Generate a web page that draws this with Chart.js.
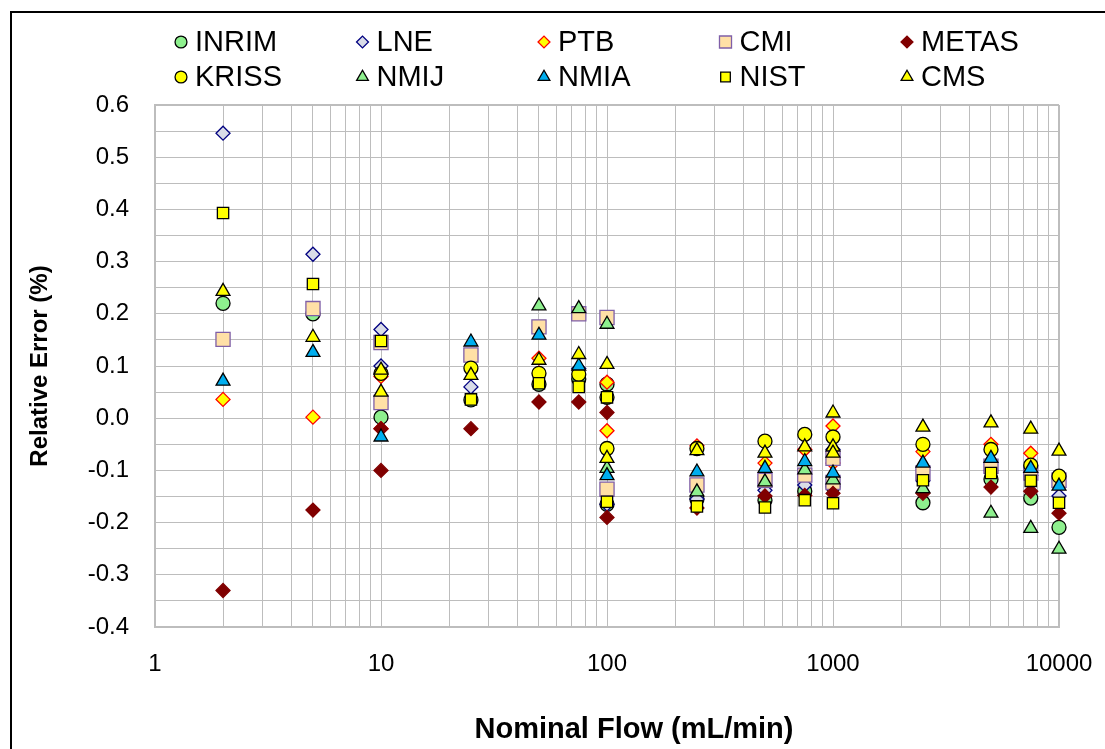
<!DOCTYPE html>
<html>
<head>
<meta charset="utf-8">
<title>Relative error vs nominal flow</title>
<script src="https://cdn.jsdelivr.net/npm/chart.js@4.4.1/dist/chart.umd.min.js"></script>
<style>
  html, body { margin: 0; padding: 0; background: #fff; }
  #wrap { width: 1105px; height: 749px; }
</style>
</head>
<body>
<div id="wrap"><canvas id="chart" width="1105" height="749"></canvas></div>
<script>
// Relative error (%) of each lab's flow meter against nominal flow (mL/min).
// Each lab is a list of [flow, error] pairs; some flows have two readings.

const xTickLabels = ['1', '10', '100', '1000', '10000'];
const yTickLabels = ['-0.4', '-0.3', '-0.2', '-0.1', '0.0', '0.1', '0.2', '0.3', '0.4', '0.5', '0.6'];

const INRIM = [[2, 0.22], [5, 0.20], [10, 0.002], [25, 0.035], [50, 0.065], [75, 0.075], [100, 0.065],
  [100, -0.165], [250, -0.155], [500, -0.157], [750, -0.14], [1000, -0.131], [2500, -0.162],
  [5000, -0.117], [7500, -0.153], [10000, -0.209]];
const LNE = [[2, 0.546], [5, 0.314], [10, 0.17], [10, 0.10], [25, 0.06], [75, 0.095], [100, -0.165],
  [250, -0.155], [500, -0.138], [750, -0.128], [1000, -0.06], [2500, -0.12], [5000, -0.10],
  [7500, -0.11], [10000, -0.149]];
const PTB = [[2, 0.036], [5, 0.002], [10, 0.08], [10, -0.02], [50, 0.115], [100, 0.069], [100, -0.024],
  [250, -0.053], [500, -0.086], [750, -0.06], [1000, -0.015], [1000, -0.086], [2500, -0.064],
  [5000, -0.05], [7500, -0.067]];
const CMI = [[2, 0.151], [5, 0.21], [10, 0.145], [10, 0.03], [25, 0.121], [50, 0.175], [75, 0.20],
  [100, 0.193], [100, -0.136], [250, -0.128], [500, -0.119], [750, -0.109], [1000, -0.077],
  [1000, -0.123], [2500, -0.105], [5000, -0.092], [7500, -0.105], [10000, -0.119]];
const METAS = [[2, -0.33], [5, -0.176], [10, -0.02], [10, -0.10], [25, -0.02], [50, 0.031], [75, 0.031],
  [100, 0.011], [100, -0.19], [250, -0.172], [500, -0.149], [750, -0.148], [1000, -0.144],
  [2500, -0.144], [5000, -0.132], [7500, -0.14], [10000, -0.182]];
const KRISS = [[10, 0.086], [25, 0.096], [50, 0.086], [75, 0.084], [100, 0.04], [100, -0.058],
  [250, -0.058], [500, -0.044], [750, -0.031], [1000, -0.036], [2500, -0.05], [5000, -0.06],
  [7500, -0.09], [10000, -0.111]];
const NMIJ = [[50, 0.215], [75, 0.21], [100, 0.18], [100, -0.096], [250, -0.141], [500, -0.122],
  [750, -0.099], [1000, -0.118], [2500, -0.135], [5000, -0.182], [7500, -0.211], [10000, -0.251]];
const NMIA = [[2, 0.071], [5, 0.126], [10, -0.036], [25, 0.146], [50, 0.159], [75, 0.10], [100, -0.11],
  [250, -0.103], [500, -0.096], [750, -0.083], [1000, -0.105], [2500, -0.086], [5000, -0.077],
  [7500, -0.096], [10000, -0.13]];
const NIST = [[2, 0.393], [5, 0.257], [10, 0.148], [25, 0.036], [50, 0.067], [75, 0.06], [100, 0.04],
  [100, -0.16], [250, -0.169], [500, -0.171], [750, -0.157], [1000, -0.163], [2500, -0.119],
  [5000, -0.105], [7500, -0.12], [10000, -0.162]];
const CMS = [[2, 0.243], [5, 0.155], [10, 0.092], [10, 0.05], [25, 0.082], [50, 0.111], [75, 0.122],
  [100, 0.103], [100, -0.077], [250, -0.062], [500, -0.067], [750, -0.055], [1000, 0.01],
  [1000, -0.055], [1000, -0.067], [2500, -0.017], [5000, -0.009], [7500, -0.021], [10000, -0.063]];

// legend order is row-major, five per row
const SERIES = [
  { label: 'INRIM', data: INRIM, style: 'circle',  r: 7, fill: '#8EF08E', line: '#000000' },
  { label: 'LNE',   data: LNE,   style: 'rectRot', r: 7, fill: '#D9DCE8', line: '#000080' },
  { label: 'PTB',   data: PTB,   style: 'rectRot', r: 7, fill: '#FFFF00', line: '#FF0000' },
  { label: 'CMI',   data: CMI,   style: 'rect',    r: 10, fill: '#FFE0A6', line: '#7F5FA8' },
  { label: 'METAS', data: METAS, style: 'rectRot', r: 7, fill: '#800000', line: '#800000' },
  { label: 'KRISS', data: KRISS, style: 'circle',  r: 7, fill: '#FFFF00', line: '#000000' },
  { label: 'NMIJ',  data: NMIJ,  style: 'triangle', r: 8, fill: '#8EF08E', line: '#000000' },
  { label: 'NMIA',  data: NMIA,  style: 'triangle', r: 8, fill: '#00AEEF', line: '#000000' },
  { label: 'NIST',  data: NIST,  style: 'rect',    r: 8, fill: '#FFFF00', line: '#000000' },
  { label: 'CMS',   data: CMS,   style: 'triangle', r: 8, fill: '#FFFF00', line: '#000000' }
];

const FONT = "'Liberation Sans', Arial, sans-serif";
const GRID = '#BDBDBD';

const datasets = SERIES.map((s, i) => ({
  label: s.label,
  data: s.data.map(([x, y]) => ({ x, y })),
  pointStyle: s.style,
  pointRadius: s.r,
  pointBackgroundColor: s.fill,
  pointBorderColor: s.line,
  pointBorderWidth: 1.3,
  showLine: false,
  clip: false,
  // later labs sit on top of earlier ones
  order: SERIES.length - i
}));

// white page, black outer frame, fixed-column legend and the x title
const decor = {
  id: 'decor',
  beforeDraw(chart) {
    const { ctx } = chart;
    ctx.save();
    ctx.fillStyle = '#fff';
    ctx.fillRect(0, 0, chart.width, chart.height);
    ctx.strokeStyle = '#000';
    ctx.lineWidth = 2;
    ctx.strokeRect(11, 12, 1300, 900);
    ctx.restore();
  },
  afterDraw(chart) {
    const { ctx } = chart;
    ctx.save();
    SERIES.forEach((s, i) => {
      const x = 181 + (i % 5) * 181.5;
      const y = i < 5 ? 42 : 77;
      ctx.fillStyle = s.fill;
      ctx.strokeStyle = s.line;
      ctx.lineWidth = 1.3;
      Chart.helpers.drawPoint(ctx, { pointStyle: s.style, radius: s.r * 0.85, rotation: 0, borderWidth: 1.3 }, x, y);
      ctx.fillStyle = '#000';
      ctx.font = `29px ${FONT}`;
      ctx.textBaseline = 'middle';
      ctx.textAlign = 'left';
      ctx.fillText(s.label, x + 14, y + 1);
    });
    ctx.font = `bold 29px ${FONT}`;
    ctx.textAlign = 'center';
    ctx.textBaseline = 'middle';
    ctx.fillText('Nominal Flow (mL/min)', 634, 730);
    ctx.restore();
  }
};

const yValue = s => parseFloat(s);
const edge = (v, lo, hi) => Math.abs(v - lo) < 1e-9 || Math.abs(v - hi) < 1e-9;
const yMin = yValue(yTickLabels[0]);
const yMax = yValue(yTickLabels[yTickLabels.length - 1]);
const xMin = Number(xTickLabels[0]);
const xMax = Number(xTickLabels[xTickLabels.length - 1]);

new Chart(document.getElementById('chart'), {
  type: 'scatter',
  data: { datasets },
  options: {
    responsive: false,
    animation: false,
    devicePixelRatio: 1,
    layout: { padding: { top: 105, right: 46, left: 0, bottom: 0 } },
    plugins: { legend: { display: false }, tooltip: { enabled: false } },
    scales: {
      x: {
        type: 'logarithmic',
        min: xMin,
        max: xMax,
        afterFit(scale) {
          scale.height = 122;
          // edge labels may overhang the plot; don't shrink it for them
          scale.paddingLeft = 0;
          scale.paddingRight = 0;
        },
        afterBuildTicks(scale) {
          // gridline at every 1..9 step of each decade
          const ticks = [];
          xTickLabels.forEach((lab, i) => {
            const d = Number(lab);
            if (i === xTickLabels.length - 1) { ticks.push({ value: d }); return; }
            for (let k = 1; k <= 9; k++) ticks.push({ value: d * k });
          });
          scale.ticks = ticks;
        },
        ticks: {
          autoSkip: false,
          maxRotation: 0,
          padding: 23,
          color: '#000',
          font: { family: FONT, size: 24 },
          callback: v => xTickLabels.find(l => Number(l) === v) || ''
        },
        grid: {
          color: GRID,
          drawTicks: false,
          lineWidth: c => (c.tick && edge(c.tick.value, xMin, xMax)) ? 2 : 1
        },
        border: { display: true, color: GRID, width: 2 }
      },
      y: {
        min: yMin,
        max: yMax,
        afterFit(scale) { scale.width = 155; },
        afterBuildTicks(scale) {
          // ticks every 0.05, labels only on the tenths
          const ticks = [];
          yTickLabels.forEach((lab, i) => {
            const v = yValue(lab);
            ticks.push({ value: v });
            if (i < yTickLabels.length - 1) ticks.push({ value: Math.round((v + 0.05) * 100) / 100 });
          });
          scale.ticks = ticks;
        },
        ticks: {
          autoSkip: false,
          padding: 26,
          color: '#000',
          font: { family: FONT, size: 24 },
          callback: v => yTickLabels.find(l => Math.abs(yValue(l) - v) < 1e-9) || ''
        },
        grid: {
          color: GRID,
          drawTicks: false,
          lineWidth: c => (c.tick && edge(c.tick.value, yMin, yMax)) ? 2 : 1
        },
        border: { display: true, color: GRID, width: 2 },
        title: {
          display: true,
          text: 'Relative Error (%)',
          color: '#000',
          font: { family: FONT, size: 24, weight: 'bold' },
          padding: { top: 26, bottom: 0 }
        }
      }
    }
  },
  plugins: [decor]
});
</script>
</body>
</html>
